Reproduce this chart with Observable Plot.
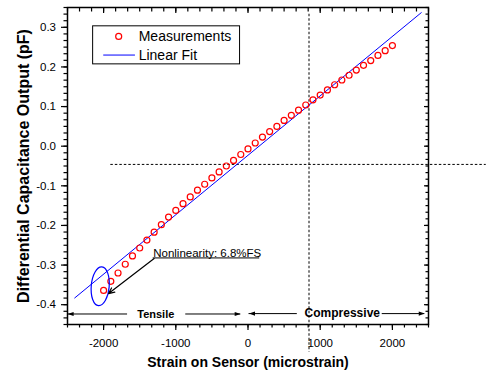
<!DOCTYPE html>
<html>
<head>
<meta charset="utf-8">
<script src="https://cdn.jsdelivr.net/npm/d3@7"></script>
<script src="https://cdn.jsdelivr.net/npm/@observablehq/plot@0.6"></script>
<style>
  html, body { margin: 0; padding: 0; background: white; }
</style>
</head>
<body>
<div id="chart"></div>
<script>
// ---- data ----
const strain = [-2000,-1900,-1800,-1700,-1600,-1500,-1400,-1300,-1200,-1100,-1000,-900,-800,-700,-600,-500,-400,-300,-200,-100,0,100,200,300,400,500,600,700,800,900,1000,1100,1200,1300,1400,1500,1600,1700,1800,1900,2000];
const capacitance = [-0.364,-0.341,-0.320,-0.298,-0.277,-0.257,-0.237,-0.217,-0.198,-0.179,-0.162,-0.145,-0.128,-0.111,-0.096,-0.080,-0.065,-0.050,-0.036,-0.021,-0.007,0.008,0.023,0.037,0.050,0.065,0.078,0.091,0.104,0.117,0.129,0.142,0.155,0.167,0.179,0.192,0.204,0.216,0.229,0.241,0.254];
const fitStrain = [-2400, 2400];
const fitCap = [-0.383, 0.337];

const xTicks = [-2000, -1000, 0, 1000, 2000];
const xTickLabels = ["-2000", "-1000", "0", "1000", "2000"];
const yTicks = [-0.4, -0.3, -0.2, -0.1, 0.0, 0.1, 0.2, 0.3];
const yTickLabels = ["-0.4", "-0.3", "-0.2", "-0.1", "0.0", "0.1", "0.2", "0.3"];

const xLabel = "Strain on Sensor (microstrain)";
const yLabel = "Differential Capacitance Output (pF)";
const seriesNames = ["Measurements", "Linear Fit"];
const noteText = "Nonlinearity: 6.8%FS";
const regionNames = ["Tensile", "Compressive"];

// ---- layout / annotation placement (data units) ----
const xDomain = [-2500, 2500];
const yDomain = [-0.45, 0.35];
const refX = 845, refXY = [0.333, -0.52];
const refY = -0.046, refYX = [-1900, 3300];
const legendBox = {x1: -2145, x2: -110, y1: 0.3025, y2: 0.2065};
const legendRows = [
  {x: -1514, y: 0.277, sx: -1791, label: seriesNames[0]},
  {x: -1514, y: 0.230, sx1: -1998, sx2: -1559, label: seriesNames[1]}
];
const regionArrows = [
  {x1: -1668, x2: -2498, y: -0.4235},
  {x1: -862, x2: -101, y: -0.4235},
  {x1: 683, x2: 14, y: -0.4225},
  {x1: 1859, x2: 2448, y: -0.4225}
];
const regionText = [
  {x: -1277, y: -0.4235, label: regionNames[0], size: 11},
  {x: 1306, y: -0.4225, label: regionNames[1], size: 12}
];
const note = {x: -1313, y: -0.282, xEnd: 162, ax1: -1300, ay1: -0.2836, ax2: -1931, ay2: -0.372};
const ellipse = {x: -2047, y: -0.3535};

// minor tick positions (axis decoration)
const xMinor = d3.range(0, 31).map(i => -2500 + i * 1000 / 6);
const yMinor = d3.range(0, 49).map(i => -0.45 + i * 0.1 / 6);

const meas = strain.map((s, i) => ({s, c: capacitance[i]}));
const fit = fitStrain.map((s, i) => ({s, c: fitCap[i]}));

const arrowHead = {draw(ctx, size) {
  const r = Math.sqrt(size / Math.PI);
  ctx.moveTo(0, 0); ctx.lineTo(-2 * r, -0.7 * r); ctx.lineTo(-2 * r, 0.7 * r); ctx.closePath();
}};
const ellipseSym = {draw(ctx, size) {
  const ry = Math.sqrt(size / Math.PI), rx = ry * 0.46, k = 0.5523;
  ctx.moveTo(rx, 0);
  ctx.bezierCurveTo(rx, k * ry, k * rx, ry, 0, ry);
  ctx.bezierCurveTo(-k * rx, ry, -rx, k * ry, -rx, 0);
  ctx.bezierCurveTo(-rx, -k * ry, -k * rx, -ry, 0, -ry);
  ctx.bezierCurveTo(k * rx, -ry, rx, -k * ry, rx, 0);
  ctx.closePath();
}};

const font = "'Liberation Sans', Arial, sans-serif";

const chart = Plot.plot({
  width: 487, height: 372,
  marginLeft: 67, marginRight: 59, marginTop: 7, marginBottom: 48,
  style: {fontFamily: font, fontSize: "11.5px", background: "white", color: "black"},
  x: {domain: xDomain},
  y: {domain: yDomain},
  marks: [
    // reference dashed lines
    Plot.ruleX([refX], {x: d => d, y1: refXY[0], y2: refXY[1], stroke: "black", strokeWidth: 1, strokeDasharray: "2.5,2"}),
    Plot.ruleY([refY], {y: d => d, x1: refYX[0], x2: refYX[1], stroke: "black", strokeWidth: 1, strokeDasharray: "2.5,2"}),
    // axes
    Plot.axisX({anchor: "bottom", ticks: xTicks, tickSize: 6, tickPadding: 8, tickFormat: d => xTickLabels[xTicks.indexOf(d)], label: null, strokeWidth: 1.2, fontSize: 11.5}),
    Plot.axisX({anchor: "bottom", ticks: xMinor, tickSize: 3.5, fill: "none", label: null, strokeWidth: 1.2}),
    Plot.axisX({anchor: "top", ticks: xTicks, tickSize: -5, fill: "none", label: null, strokeWidth: 1.2}),
    Plot.axisX({anchor: "top", ticks: xMinor, tickSize: -3.5, fill: "none", label: null, strokeWidth: 1.2}),
    Plot.axisY({anchor: "left", ticks: yTicks, tickSize: 6, tickPadding: 5.5, tickFormat: d => yTickLabels[yTicks.findIndex(t => Math.abs(t - d) < 1e-9)], label: null, strokeWidth: 1.2, fontSize: 11.5}),
    Plot.axisY({anchor: "left", ticks: yMinor, tickSize: 3.5, fill: "none", label: null, strokeWidth: 1.2}),
    Plot.axisY({anchor: "right", ticks: yTicks, tickSize: -5, fill: "none", label: null, strokeWidth: 1.2}),
    Plot.axisY({anchor: "right", ticks: yMinor, tickSize: -3.5, fill: "none", label: null, strokeWidth: 1.2}),
    Plot.frame({stroke: "black", strokeWidth: 1.5}),
    // linear fit & measurements
    Plot.line(fit, {x: "s", y: "c", stroke: "#0000ff", strokeWidth: 1}),
    Plot.dot(meas, {x: "s", y: "c", r: 3, stroke: "#ff0000", strokeWidth: 1.2, fill: "none"}),
    // legend
    Plot.rect([legendBox], {x1: "x1", x2: "x2", y1: "y1", y2: "y2", fill: "white", stroke: "black", strokeWidth: 1}),
    Plot.dot([legendRows[0]], {x: "sx", y: "y", r: 3, stroke: "#ff0000", strokeWidth: 1.2, fill: "none"}),
    Plot.ruleY([legendRows[1]], {y: "y", x1: "sx1", x2: "sx2", stroke: "#0000ff", strokeWidth: 1}),
    Plot.text(legendRows, {x: "x", y: "y", text: "label", textAnchor: "start", fontSize: 14, fill: "black"}),
    // ellipse + nonlinearity note
    Plot.dot([ellipse], {x: "x", y: "y", r: 19.5, symbol: ellipseSym, rotate: 5, stroke: "#0000ff", strokeWidth: 1.2, fill: "none"}),
    Plot.ruleY([note], {y: "y", x1: "x", x2: "xEnd", stroke: "black", strokeWidth: 1}),
    Plot.text([note], {x: "x", y: "y", text: () => noteText, textAnchor: "start", lineAnchor: "bottom", dy: -1, fontSize: 11.5, fill: "black"}),
    Plot.arrow([note], {x1: "ax1", y1: "ay1", x2: "ax2", y2: "ay2", stroke: "black", strokeWidth: 1.2, headLength: 8, headAngle: 50}),
    // tensile / compressive arrows
    Plot.ruleY(regionArrows, {y: "y", x1: "x1", x2: "x2", stroke: "black", strokeWidth: 1}),
    Plot.dot(regionArrows, {x: "x2", y: "y", r: 3, symbol: arrowHead, rotate: d => d.x2 < d.x1 ? 180 : 0, fill: "black", stroke: "none"}),
    Plot.text(regionText, {x: "x", y: "y", text: "label", fontSize: d => d.size, fontWeight: "bold", fill: "black"}),
    // axis titles
    Plot.text([xLabel], {frameAnchor: "bottom", dy: 38.5, textAnchor: "middle", lineAnchor: "middle", text: d => d, fontSize: 14, fontWeight: "bold", fill: "black"}),
    Plot.text([yLabel], {frameAnchor: "left", dx: -44, textAnchor: "middle", lineAnchor: "middle", rotate: -90, text: d => d, fontSize: 16, fontWeight: "bold", fill: "black"})
  ]
});
document.getElementById("chart").appendChild(chart);
</script>
</body>
</html>
